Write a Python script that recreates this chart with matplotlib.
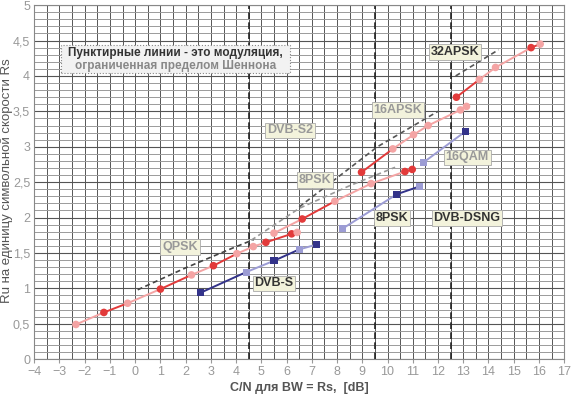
import matplotlib.pyplot as plt
import numpy as np
from matplotlib.ticker import FuncFormatter, MultipleLocator
from matplotlib.patches import Rectangle

plt.rcParams['font.family'] = ['Liberation Sans', 'DejaVu Sans']
narrow = ['Liberation Sans Narrow', 'Liberation Sans', 'DejaVu Sans']

# DVB-S2 points (C/N dB, Ru/Rs); flag 1 = dark point
qpsk_cn = [-2.35, -1.24, -0.30, 1.00, 2.23, 3.10, 4.03, 4.68, 5.18, 6.20, 6.42]
qpsk_ru = [0.49, 0.66, 0.79, 0.99, 1.19, 1.32, 1.49, 1.59, 1.65, 1.77, 1.79]
qpsk_dark = [0, 1, 0, 1, 0, 1, 0, 0, 1, 1, 0]

psk8_cn = [5.50, 6.62, 7.91, 9.35, 10.69, 10.98]
psk8_ru = [1.78, 1.98, 2.23, 2.48, 2.65, 2.68]
psk8_dark = [0, 1, 0, 0, 1, 1]

apsk16_cn = [8.97, 10.21, 11.03, 11.61, 12.89, 13.13]
apsk16_ru = [2.64, 2.97, 3.17, 3.30, 3.52, 3.57]
apsk16_dark = [1, 0, 0, 0, 0, 0]

apsk32_cn = [12.73, 13.64, 14.28, 15.69, 16.05]
apsk32_ru = [3.70, 3.95, 4.12, 4.40, 4.45]
apsk32_dark = [1, 0, 0, 1, 0]

# DVB-S and DVB-DSNG
dvbs_cn = [2.6, 4.4, 5.5, 6.5, 7.2]
dvbs_ru = [0.94, 1.23, 1.39, 1.55, 1.62]
dvbs_dark = [1, 0, 1, 0, 1]

dsng8_cn = [8.2, 10.37, 11.27]
dsng8_ru = [1.84, 2.33, 2.44]
dsng8_dark = [0, 1, 0]

qam16_cn = [11.43, 13.1]
qam16_ru = [2.78, 3.22]
qam16_dark = [0, 1]

# Shannon-limited (dashed) curves
sh_qpsk_cn = [0.1, 2.0, 3.8, 4.7]
sh_qpsk_ru = [0.98, 1.29, 1.56, 1.69]
sh_8psk_cn = [4.6, 6.5, 8.5, 10.3]
sh_8psk_ru = [1.68, 2.13, 2.45, 2.71]
sh_16apsk_cn = [6.5, 9.6, 12.0]
sh_16apsk_ru = [2.15, 3.0, 3.5]
sh_32apsk_cn = [12.7, 14.4]
sh_32apsk_ru = [4.0, 4.37]

boundaries = [4.5, 9.5, 12.5]

fig = plt.figure(figsize=(5.71, 3.96), dpi=100)
ax = fig.add_axes([0.06, 0.093, 0.928, 0.894])

ax.set_xlim(-4, 17)
ax.set_ylim(0, 5)
ax.xaxis.set_major_locator(MultipleLocator(1))
ax.xaxis.set_minor_locator(MultipleLocator(0.5))
ax.yaxis.set_major_locator(MultipleLocator(0.5))
ax.yaxis.set_minor_locator(MultipleLocator(0.1))
ax.grid(which='both', axis='x', color='#555555', lw=0.7)
ax.grid(which='minor', axis='y', color='#9a9a9a', lw=0.7)
ax.grid(which='major', axis='y', color='#555555', lw=0.8)
ax.set_axisbelow(True)
ax.yaxis.set_major_formatter(FuncFormatter(lambda v, p: ('%g' % v).replace('.', ',')))
ax.tick_params(which='both', colors='#999999', labelsize=9, length=3, pad=2)
ax.tick_params(axis='y', length=0, pad=3)
ax.tick_params(which='minor', length=0)
for s in ax.spines.values():
    s.set_color('#888888')
    s.set_linewidth(0.8)

for b in boundaries:
    ax.axvline(b, color='#222222', lw=1.2, ls=(0, (4, 2)), zorder=2)

for cn, ru, c in [(sh_qpsk_cn, sh_qpsk_ru, '#444444'), (sh_8psk_cn, sh_8psk_ru, '#999999'),
                  (sh_16apsk_cn, sh_16apsk_ru, '#555555'), (sh_32apsk_cn, sh_32apsk_ru, '#555555')]:
    ax.plot(cn, ru, color=c, lw=1.2, ls=(0, (3, 2)), zorder=3)


def draw(cn, ru, dark, light_c, dark_c, marker, ms):
    for i in range(len(cn) - 1):
        c = dark_c if dark[i] else light_c
        ax.plot(cn[i:i + 2], ru[i:i + 2], color=c, lw=1.4, zorder=4)
    cols = [dark_c if d else light_c for d in dark]
    ax.scatter(cn, ru, c=cols, marker=marker, s=ms, zorder=5, linewidths=0)


pink, red = '#f4a4a4', '#e23a3a'
lav, navy = '#9c9cd4', '#33338a'
draw(qpsk_cn, qpsk_ru, qpsk_dark, pink, red, 'o', 30)
draw(psk8_cn, psk8_ru, psk8_dark, pink, red, 'o', 30)
draw(apsk16_cn, apsk16_ru, apsk16_dark, pink, red, 'o', 30)
draw(apsk32_cn, apsk32_ru, apsk32_dark, pink, red, 'o', 30)
draw(dvbs_cn, dvbs_ru, dvbs_dark, lav, navy, 's', 26)
draw(dsng8_cn, dsng8_ru, dsng8_dark, lav, navy, 's', 26)
draw(qam16_cn, qam16_ru, qam16_dark, lav, navy, 's', 26)


def label(x, y, txt, col, size=9):
    ax.text(x, y, txt, color=col, fontsize=size, fontweight='bold', ha='center', va='center',
            family=narrow, zorder=6,
            bbox=dict(boxstyle='square,pad=0.15', fc='#f3f3dc', ec='#aaaaaa', lw=0.6))


label(1.78, 1.58, 'QPSK', '#999999')
label(5.5, 1.07, 'DVB-S', '#333333')
label(7.13, 2.53, '8PSK', '#999999')
label(6.14, 3.23, 'DVB-S2', '#999999')
label(10.18, 1.99, '8PSK', '#333333')
label(13.15, 1.99, 'DVB-DSNG', '#333333')
label(13.15, 2.85, '16QAM', '#999999')
label(10.42, 3.52, '16APSK', '#999999')
label(12.68, 4.34, '32APSK', '#333333')

ax.add_patch(Rectangle((-2.95, 4.04), 9.1, 0.4, fc='#f2f2f2', ec='#888888', lw=0.8,
                       ls=':', zorder=6))
ax.text(1.6, 4.33, 'Пунктирные линии - это модуляция,', color='#333333', fontsize=8.5,
        fontweight='bold', ha='center', va='center', zorder=7)
ax.text(1.6, 4.14, 'ограниченная пределом Шеннона', color='#888888', fontsize=8.5,
        fontweight='bold', ha='center', va='center', zorder=7)

ax.set_xlabel('C/N для BW = Rs,  [dB]', color='#555555', fontsize=9, fontweight='bold',
              labelpad=3)
fig.text(0.012, 0.545, 'Ru на единицу символьной скорости Rs', color='#555555', fontsize=9.5,
         rotation=90, ha='center', va='center')

fig.savefig('out.png', dpi=100)
